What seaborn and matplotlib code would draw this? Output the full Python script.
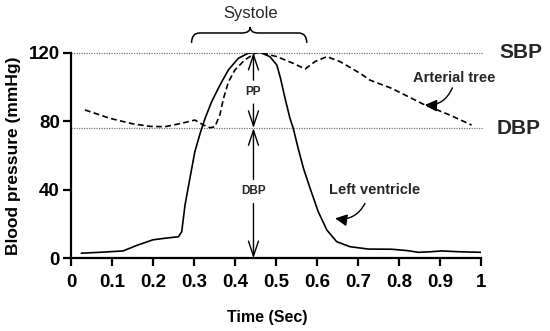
import matplotlib
matplotlib.use("Agg")
import matplotlib.pyplot as plt
from matplotlib.path import Path
from matplotlib.patches import PathPatch
import seaborn as sns
import pandas as pd

# ---- data ----
time_lv = [0.025, 0.07, 0.127, 0.16, 0.2, 0.229, 0.262, 0.27, 0.278, 0.29, 0.302,
           0.315, 0.327, 0.343, 0.363, 0.384, 0.408, 0.432, 0.449, 0.461, 0.485,
           0.502, 0.511, 0.522, 0.534, 0.542, 0.554, 0.567, 0.583, 0.603, 0.624,
           0.648, 0.68, 0.725, 0.782, 0.82, 0.847, 0.875, 0.904, 0.95, 1.0]
left_ventricle = [3, 3.5, 4.3, 7.5, 10.8, 11.7, 12.6, 15.5, 31, 46.7, 62.2,
                  73, 81.7, 91.4, 101, 110, 116.7, 119.7, 120.2, 120.2, 117.7,
                  112.8, 105, 93.4, 81.7, 75.9, 64.2, 52.5, 40.9, 27.2, 16.5,
                  9.7, 6.8, 5.4, 5.3, 4.5, 3.5, 3.8, 4.3, 3.8, 3.5]

time_at = [0.034, 0.095, 0.15, 0.193, 0.229, 0.27, 0.302, 0.323, 0.339, 0.351,
           0.363, 0.372, 0.384, 0.4, 0.424, 0.449, 0.461, 0.502, 0.542, 0.571,
           0.595, 0.624, 0.656, 0.705, 0.729, 0.782, 0.863, 0.92, 0.977]
arterial_tree = [86.6, 81.7, 78.5, 77, 76.8, 78.8, 80.7, 77.8, 76.2, 76.8,
                 83.7, 93.4, 103, 110, 115.8, 119.7, 120.2, 117.7, 113.8, 110.5,
                 114.8, 117.7, 114.8, 108, 104, 99.2, 89.5, 84, 77.8]

sbp = 120
dbp = 76
x_ticks = [0, 0.1, 0.2, 0.3, 0.4, 0.5, 0.6, 0.7, 0.8, 0.9, 1]
x_tick_labels = ["0", "0.1", "0.2", "0.3", "0.4", "0.5", "0.6", "0.7", "0.8", "0.9", "1"]
y_ticks = [0, 40, 80, 120]
y_tick_labels = ["0", "40", "80", "120"]

df_lv = pd.DataFrame({"t": time_lv, "p": left_ventricle})
df_at = pd.DataFrame({"t": time_at, "p": arterial_tree})

sns.set_theme(style="ticks")
plt.rcParams["font.family"] = ["Liberation Sans", "DejaVu Sans"]

fig = plt.figure(figsize=(5.5, 3.31), dpi=100)
ax = fig.add_axes([0.1291, 0.2196, 0.7455, 0.6212])

sns.lineplot(data=df_lv, x="t", y="p", ax=ax, color="black", lw=1.2,
             sort=False, estimator=None)
sns.lineplot(data=df_at, x="t", y="p", ax=ax, color="black", lw=1.2,
             linestyle=(0, (3.5, 2.0)), sort=False, estimator=None)

# reference lines
for yv in (sbp, dbp):
    ax.plot([0, 1.005], [yv, yv], color="#777777", lw=0.9, ls=(0, (1, 1)),
            clip_on=False, zorder=1)

ax.set_xlim(0, 1)
ax.set_ylim(0, 120)
ax.set_xticks(x_ticks)
ax.set_xticklabels(x_tick_labels)
ax.set_yticks(y_ticks)
ax.set_yticklabels(y_tick_labels)
ax.tick_params(axis="both", direction="out", length=6, width=1.6,
               labelsize=13.5, color="black", labelcolor="black")
ax.tick_params(axis="y", pad=2)
ax.tick_params(axis="x", pad=5)
for lab in ax.get_xticklabels() + ax.get_yticklabels():
    lab.set_fontweight("bold")
sns.despine(ax=ax)
for s in ("left", "bottom"):
    ax.spines[s].set_linewidth(1.6)
    ax.spines[s].set_color("black")
ax.set_xlabel("Time (Sec)", fontsize=11.5, fontweight="bold", color="black")
ax.set_ylabel("Blood pressure (mmHg)", fontsize=12.5, fontweight="bold", color="black")
ax.xaxis.set_label_coords(0.479, -0.25)
ax.yaxis.set_label_coords(-0.122, 0.5)

# vertical double arrows (PP and DBP)
t_arrow = 0.445
open_head = dict(arrowstyle="->,head_length=0.9,head_width=0.3", color="black",
                 lw=1.0, shrinkA=0, shrinkB=0, mutation_scale=12)
ax.annotate("", xy=(t_arrow, sbp), xytext=(t_arrow, 104), arrowprops=open_head)
ax.annotate("", xy=(t_arrow, dbp), xytext=(t_arrow, 90), arrowprops=open_head)
ax.annotate("", xy=(t_arrow, dbp), xytext=(t_arrow, 46), arrowprops=open_head)
ax.annotate("", xy=(t_arrow, 0), xytext=(t_arrow, 32), arrowprops=open_head)
ax.text(t_arrow, 97, "PP", ha="center", va="center", fontsize=8.5, fontweight="bold")
ax.text(t_arrow, 39.5, "DBP", ha="center", va="center", fontsize=8.5, fontweight="bold")

# right side labels
ax.text(1.045, sbp, "SBP", ha="left", va="center", fontsize=15, fontweight="bold",
        clip_on=False)
ax.text(1.037, dbp, "DBP", ha="left", va="center", fontsize=15, fontweight="bold",
        clip_on=False)

# curve labels with curved arrows
filled_head = dict(arrowstyle="-|>,head_length=0.6,head_width=0.3", color="black",
                   lw=1.0, shrinkA=0, shrinkB=0, mutation_scale=12,
                   connectionstyle="arc3,rad=-0.35")
ax.text(0.835, 105, "Arterial tree", ha="left", va="center", fontsize=10.5, fontweight="bold")
ax.annotate("", xy=(0.863, 89.5), xytext=(0.93, 99.5), arrowprops=filled_head)
ax.text(0.628, 40, "Left ventricle", ha="left", va="center", fontsize=10.5, fontweight="bold")
ax.annotate("", xy=(0.644, 23.3), xytext=(0.717, 32), arrowprops=filled_head)

# Systole brace
bx0, bx1, bmid = 0.294, 0.575, 0.437
yb0, yb1, ytip = 125.7, 131.5, 135.0
verts = [
    (bx0, yb0), (bx0, yb1), (bx0 + 0.02, yb1),
    (bmid - 0.02, yb1),
    (bmid, yb1), (bmid, ytip),
    (bmid, yb1), (bmid + 0.02, yb1),
    (bx1 - 0.02, yb1),
    (bx1, yb1), (bx1, yb0),
]
codes = [Path.MOVETO, Path.CURVE3, Path.CURVE3,
         Path.LINETO,
         Path.CURVE3, Path.CURVE3,
         Path.CURVE3, Path.CURVE3,
         Path.LINETO,
         Path.CURVE3, Path.CURVE3]
ax.add_patch(PathPatch(Path(verts, codes), fill=False, lw=1.1, color="black", clip_on=False))
ax.text(bmid, 143, "Systole", ha="center", va="center", fontsize=12, clip_on=False)

fig.savefig("out.png", dpi=100)
